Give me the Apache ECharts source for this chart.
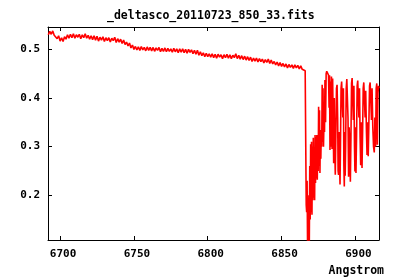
<!DOCTYPE html>
<html>
<head>
<meta charset="utf-8">
<script src="https://cdn.jsdelivr.net/npm/echarts@6/dist/echarts.min.js"></script>
<style>
  html, body { margin: 0; padding: 0; background: #fff; }
  #chart { width: 400px; height: 280px; }
</style>
</head>
<body>
<div id="chart"></div>
<script>
// continuum part: sampled on a regular 1 A grid starting at contStart
const contStart = 6692
const contStep = 1
const contFlux = [
  0.530, 0.537, 0.531, 0.538, 0.529, 0.533, 0.522, 0.528, 0.517, 0.524,
  0.516, 0.526, 0.521, 0.530, 0.523, 0.531, 0.524, 0.532, 0.523, 0.530,
  0.525, 0.531, 0.522, 0.530, 0.524, 0.532, 0.523, 0.529, 0.521, 0.528,
  0.520, 0.528, 0.519, 0.527, 0.517, 0.525, 0.519, 0.526, 0.516, 0.524,
  0.518, 0.524, 0.515, 0.523, 0.518, 0.525, 0.514, 0.522, 0.515, 0.521,
  0.512, 0.519, 0.510, 0.515, 0.507, 0.513, 0.503, 0.509, 0.500, 0.506,
  0.499, 0.505, 0.498, 0.506, 0.499, 0.504, 0.497, 0.505, 0.498, 0.504,
  0.497, 0.504, 0.496, 0.503, 0.498, 0.504, 0.495, 0.502, 0.496, 0.503,
  0.495, 0.502, 0.496, 0.501, 0.494, 0.502, 0.495, 0.501, 0.493, 0.501,
  0.494, 0.501, 0.493, 0.500, 0.492, 0.500, 0.494, 0.499, 0.491, 0.498,
  0.490, 0.498, 0.488, 0.495, 0.487, 0.493, 0.485, 0.492, 0.485, 0.491,
  0.484, 0.491, 0.483, 0.490, 0.482, 0.490, 0.484, 0.489, 0.481, 0.489,
  0.483, 0.490, 0.482, 0.489, 0.481, 0.488, 0.483, 0.491, 0.481, 0.488,
  0.480, 0.487, 0.479, 0.486, 0.478, 0.485, 0.477, 0.484, 0.475, 0.482,
  0.476, 0.482, 0.474, 0.481, 0.475, 0.480, 0.472, 0.479, 0.473, 0.480,
  0.471, 0.478, 0.470, 0.475, 0.468, 0.474, 0.466, 0.473, 0.465, 0.471,
  0.464, 0.470, 0.462, 0.469, 0.463, 0.468, 0.461, 0.468, 0.462, 0.467,
  0.460, 0.466, 0.459, 0.463, 0.456
]

// O2 B band region
const bandWl = [
  6866.4, 6866.7, 6867.0, 6867.3, 6867.6, 6867.9, 6868.2, 6868.5, 6868.8, 6869.1,
  6869.4, 6869.7, 6870.0, 6870.3, 6870.6, 6870.9, 6871.2, 6871.5, 6871.8, 6872.1,
  6872.4, 6872.7, 6873.0, 6873.3, 6873.6, 6873.9, 6874.2, 6874.5, 6874.8, 6875.1,
  6875.4, 6875.7, 6876.0, 6876.3, 6876.6, 6876.9, 6877.2, 6877.5, 6877.8, 6878.1,
  6878.4, 6878.8, 6879.1, 6879.4, 6879.8, 6880.2, 6880.6, 6881.0, 6881.4, 6881.8,
  6882.2, 6882.5, 6882.8, 6883.1, 6883.4, 6883.8, 6884.2, 6884.6, 6885.0, 6885.3,
  6885.7, 6886.0, 6886.4, 6886.8, 6887.2, 6887.6, 6888.0, 6888.3, 6888.6, 6888.9,
  6889.2, 6889.6, 6889.9, 6890.3, 6890.7, 6891.1, 6891.5, 6891.9, 6892.2, 6892.5,
  6892.8, 6893.1, 6893.4, 6893.8, 6894.2, 6894.6, 6895.0, 6895.4, 6895.8, 6896.2,
  6896.6, 6897.0, 6897.4, 6897.8, 6898.2, 6898.6, 6899.0, 6899.4, 6899.7, 6900.0,
  6900.4, 6900.8, 6901.2, 6901.6, 6902.0, 6902.4, 6902.8, 6903.2, 6903.6, 6904.0,
  6904.5, 6904.9, 6905.3, 6905.7, 6906.1, 6906.6, 6907.0, 6907.5, 6907.9, 6908.3,
  6908.7, 6909.1, 6909.6, 6910.0, 6910.5, 6910.9, 6911.3, 6911.8, 6912.3, 6912.8,
  6913.2, 6913.7, 6914.1, 6914.5, 6914.9, 6915.3, 6915.7, 6916.1
]
const bandFlux = [
  0.455, 0.180, 0.165, 0.230, 0.100, 0.170, 0.095, 0.200, 0.105, 0.260,
  0.150, 0.305, 0.165, 0.310, 0.160, 0.300, 0.190, 0.318, 0.195, 0.290,
  0.190, 0.324, 0.225, 0.320, 0.235, 0.324, 0.232, 0.315, 0.250, 0.382,
  0.260, 0.375, 0.246, 0.334, 0.275, 0.330, 0.300, 0.427, 0.310, 0.420,
  0.300, 0.361, 0.330, 0.437, 0.350, 0.450, 0.455, 0.452, 0.456, 0.447,
  0.380, 0.447, 0.293, 0.434, 0.300, 0.444, 0.295, 0.440, 0.340, 0.266,
  0.400, 0.300, 0.242, 0.330, 0.420, 0.427, 0.360, 0.250, 0.242, 0.330,
  0.280, 0.222, 0.300, 0.420, 0.434, 0.430, 0.360, 0.420, 0.260, 0.218,
  0.330, 0.240, 0.300, 0.420, 0.439, 0.436, 0.360, 0.238, 0.340, 0.300,
  0.228, 0.320, 0.430, 0.441, 0.438, 0.355, 0.425, 0.300, 0.249, 0.340,
  0.246, 0.320, 0.425, 0.436, 0.434, 0.360, 0.420, 0.320, 0.262, 0.350,
  0.256, 0.330, 0.420, 0.432, 0.430, 0.360, 0.415, 0.330, 0.283, 0.350,
  0.280, 0.340, 0.425, 0.432, 0.428, 0.355, 0.420, 0.340, 0.300, 0.288,
  0.360, 0.300, 0.420, 0.430, 0.304, 0.410, 0.425, 0.420
]

const xTicks = [6700, 6750, 6800, 6850, 6900]
const yTicks = [0.2, 0.3, 0.4, 0.5]
const xMin = 6691.8, xMax = 6916.0
const yMin = 0.108, yMax = 0.546

const spectrum = contFlux.map((f, i) => [contStart + i * contStep, f])
  .concat(bandWl.map((w, i) => [w, bandFlux[i]]))

const font = 'DejaVu Sans Mono'

function frameAxis(pos, isX, labels) {
  const ticks = isX ? xTicks : yTicks
  return {
    type: 'value',
    position: pos,
    min: isX ? xMin : yMin,
    max: isX ? xMax : yMax,
    axisLine: { show: true, onZero: false, lineStyle: { color: '#000', width: 1 } },
    axisTick: { show: true, inside: true, length: 4, customValues: ticks, lineStyle: { color: '#000' } },
    axisLabel: {
      show: labels,
      customValues: ticks,
      color: '#000',
      fontFamily: font,
      fontWeight: 'bold',
      fontSize: 11,
      margin: isX ? 9 : 8,
      padding: isX ? [0, 0, 0, 6] : 0,
      formatter: v => isX ? String(v) : v.toFixed(1)
    },
    splitLine: { show: false }
  }
}

const chart = echarts.init(document.getElementById('chart'), null, { renderer: 'canvas' })

chart.setOption({
  animation: false,
  backgroundColor: '#fff',
  title: [
    {
      text: '_deltasco_20110723_850_33.fits',
      left: 107,
      top: 10,
      padding: 0,
      textStyle: { fontFamily: font, fontWeight: 'bold', fontSize: 11.5, color: '#000' }
    },
    {
      text: 'Angstrom',
      right: 16,
      top: 265,
      padding: 0,
      textStyle: { fontFamily: font, fontWeight: 'bold', fontSize: 11.5, color: '#000' }
    }
  ],
  grid: { left: 48, right: 21, top: 27, bottom: 40, containLabel: false },
  xAxis: [frameAxis('bottom', true, true), frameAxis('top', true, false)],
  yAxis: [frameAxis('left', false, true), frameAxis('right', false, false)],
  series: [
    {
      type: 'line',
      data: spectrum,
      showSymbol: false,
      symbol: 'none',
      clip: true,
      lineStyle: { color: '#ff0000', width: 1.6 }
    }
  ]
})
</script>
</body>
</html>
